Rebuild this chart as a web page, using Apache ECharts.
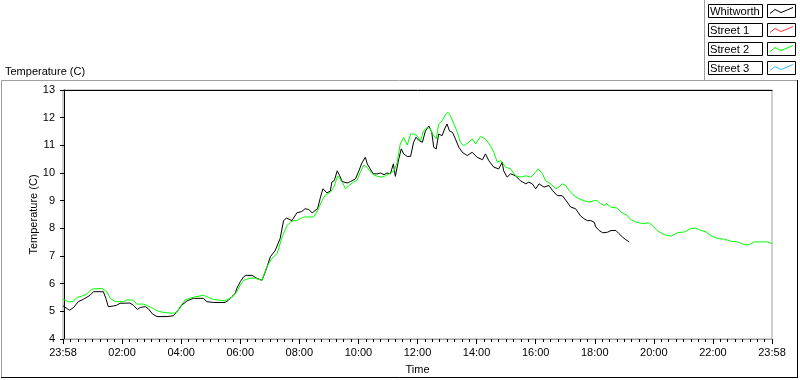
<!DOCTYPE html>
<html>
<head>
<meta charset="utf-8">
<script src="https://cdn.jsdelivr.net/npm/echarts@6/dist/echarts.min.js"></script>
<style>
html,body{margin:0;padding:0;background:#fff;}
#chart{width:800px;height:380px;}
</style>
</head>
<body>
<div id="chart"></div>
<script>
// Time values: minutes after midnight (-2 = 23:58 of the previous day)
var seriesNames = ['Whitworth', 'Street 1', 'Street 2', 'Street 3'];
var seriesColors = ['#000000', '#ff3030', '#00ff00', '#33bbff'];

var whitworthTime = [-2, 11, 19, 29, 39, 53, 60, 80, 85, 90, 94, 100, 107, 114, 134, 141, 149, 155, 165, 171, 180, 189, 209, 222, 232, 239, 250, 263, 283, 290, 304, 327, 334, 341, 348, 351, 358, 365, 370, 382, 392, 402, 409, 419, 429, 439, 446, 452, 456, 463, 473, 483, 490, 497, 504, 515, 521, 526, 534, 541, 544, 549, 555, 560, 565, 575, 582, 592, 599, 605, 612, 616, 622, 628, 636, 643, 650, 656, 663, 669, 673, 677, 680, 685, 690, 697, 704, 710, 715, 722, 728, 734, 741, 747, 751, 756, 761, 768, 773, 778, 783, 789, 795, 802, 809, 819, 829, 839, 850, 856, 863, 873, 883, 890, 893, 900, 907, 917, 927, 938, 944, 951, 958, 965, 975, 985, 992, 1002, 1012, 1022, 1029, 1039, 1049, 1056, 1063, 1070, 1077, 1080, 1087, 1094, 1104, 1111, 1121, 1127, 1134, 1141, 1148];
var whitworthTemp = [5.20, 5.04, 5.13, 5.35, 5.43, 5.58, 5.71, 5.71, 5.47, 5.17, 5.20, 5.19, 5.22, 5.29, 5.30, 5.22, 5.07, 5.14, 5.17, 5.10, 4.90, 4.81, 4.81, 4.84, 5.04, 5.22, 5.38, 5.47, 5.47, 5.35, 5.32, 5.32, 5.40, 5.53, 5.65, 5.83, 6.07, 6.25, 6.30, 6.30, 6.19, 6.12, 6.43, 6.97, 7.20, 7.63, 8.28, 8.37, 8.35, 8.28, 8.56, 8.61, 8.71, 8.68, 8.56, 8.71, 9.13, 9.43, 9.28, 9.35, 9.67, 9.73, 10.08, 9.90, 9.69, 9.64, 9.69, 9.79, 10.08, 10.36, 10.57, 10.33, 10.15, 9.97, 9.97, 10.00, 9.94, 10.00, 9.97, 10.33, 9.88, 9.85, 10.51, 10.87, 10.69, 10.60, 10.60, 11.11, 11.29, 11.16, 11.11, 11.52, 11.70, 11.47, 10.93, 10.87, 11.41, 11.35, 11.59, 11.77, 11.52, 11.47, 11.23, 10.93, 10.75, 10.63, 10.75, 10.57, 10.48, 10.69, 10.44, 10.21, 10.15, 10.39, 10.08, 9.85, 9.97, 9.90, 9.72, 9.61, 9.67, 9.61, 9.43, 9.61, 9.49, 9.55, 9.37, 9.18, 9.18, 8.95, 8.77, 8.71, 8.45, 8.35, 8.28, 8.28, 8.22, 8.05, 7.92, 7.84, 7.86, 7.92, 7.92, 7.81, 7.69, 7.59, 7.51];

var street1Time = [];
var street1Temp = [];

var street2Time = [-2, 9, 19, 26, 36, 46, 56, 77, 81, 87, 94, 104, 121, 128, 141, 148, 161, 175, 189, 202, 222, 229, 236, 246, 260, 283, 290, 304, 327, 338, 344, 351, 358, 365, 368, 378, 388, 402, 412, 422, 433, 443, 453, 460, 466, 473, 480, 487, 507, 515, 524, 531, 541, 548, 556, 565, 572, 578, 588, 595, 602, 609, 616, 626, 636, 646, 653, 663, 670, 677, 679, 683, 685, 690, 697, 704, 710, 717, 724, 730, 738, 744, 751, 756, 761, 768, 775, 780, 785, 792, 799, 805, 812, 822, 829, 836, 846, 856, 866, 873, 880, 887, 897, 907, 917, 927, 938, 948, 958, 963, 972, 978, 988, 999, 1005, 1012, 1019, 1026, 1036, 1046, 1056, 1066, 1077, 1083, 1090, 1097, 1102, 1110, 1124, 1131, 1144, 1151, 1161, 1175, 1188, 1195, 1205, 1219, 1233, 1246, 1260, 1273, 1283, 1294, 1304, 1314, 1328, 1341, 1355, 1368, 1382, 1392, 1402, 1416, 1429, 1438];
var street2Temp = [5.44, 5.35, 5.35, 5.50, 5.55, 5.62, 5.80, 5.83, 5.89, 5.71, 5.47, 5.35, 5.35, 5.41, 5.41, 5.26, 5.26, 5.17, 5.02, 4.96, 4.93, 4.96, 5.17, 5.41, 5.50, 5.58, 5.53, 5.43, 5.38, 5.47, 5.55, 5.71, 5.95, 6.12, 6.12, 6.20, 6.20, 6.12, 6.61, 6.91, 7.09, 7.69, 8.10, 8.22, 8.28, 8.28, 8.35, 8.41, 8.41, 8.64, 9.00, 9.21, 9.30, 9.49, 9.90, 9.67, 9.43, 9.54, 9.67, 9.73, 10.03, 10.29, 10.20, 9.97, 9.88, 9.85, 9.90, 10.00, 10.06, 10.39, 10.63, 11.05, 11.11, 11.29, 11.01, 11.41, 11.41, 11.35, 11.16, 11.52, 11.65, 11.59, 11.35, 11.23, 11.77, 11.88, 12.12, 12.19, 12.06, 11.77, 11.47, 11.11, 10.99, 11.11, 11.23, 11.05, 11.32, 11.23, 10.99, 10.75, 10.39, 10.45, 10.21, 10.15, 9.90, 9.85, 9.90, 9.85, 10.03, 10.15, 9.97, 9.72, 9.61, 9.43, 9.49, 9.61, 9.55, 9.37, 9.18, 9.07, 9.00, 8.95, 9.00, 9.00, 8.89, 8.83, 8.89, 8.77, 8.73, 8.59, 8.47, 8.32, 8.23, 8.17, 8.20, 8.10, 7.92, 7.77, 7.72, 7.84, 7.87, 7.99, 8.01, 7.92, 7.87, 7.74, 7.63, 7.61, 7.53, 7.51, 7.41, 7.41, 7.51, 7.51, 7.51, 7.45];

var street3Time = [];
var street3Temp = [];

// x axis: 23:58 .. 23:58, a labelled tick every 2 hours, minor ticks every 15 minutes
var xMin = -2, xMax = 1438, xStep = 120, xMinorSplit = 8;
var yMin = 4, yMax = 13, yStep = 1;

function zip(a, b) { return a.map(function (t, i) { return [t, b[i]]; }); }
function hhmm(m) {
  m = ((Math.round(m) % 1440) + 1440) % 1440;
  var h = Math.floor(m / 60), mm = m % 60;
  return (h < 10 ? '0' : '') + h + ':' + (mm < 10 ? '0' : '') + mm;
}
function fmtTime(v) {
  if (v <= xMin || v >= xMax) return hhmm(v);
  return hhmm(Math.round(v / 60) * 60);
}

var FONT = 'Liberation Sans';
var allData = [zip(whitworthTime, whitworthTemp), zip(street1Time, street1Temp), zip(street2Time, street2Temp), zip(street3Time, street3Temp)];

var series = seriesNames.map(function (n, i) {
  return {
    name: n, type: 'line', data: allData[i], showSymbol: false, symbol: 'none',
    xAxisIndex: 0, yAxisIndex: 0,
    lineStyle: { color: seriesColors[i], width: 1 }, itemStyle: { color: seriesColors[i] },
    animation: false, silent: true
  };
});

var graphics = [
  { type: 'rect', shape: { x: 1.5, y: 80.5, width: 796, height: 297 }, style: { fill: null, stroke: '#a0a0a0', lineWidth: 1 } },
  { type: 'line', shape: { x1: 1, y1: 377.5, x2: 798, y2: 377.5 }, style: { stroke: '#000', lineWidth: 1 } },
  { type: 'line', shape: { x1: 797.5, y1: 80, x2: 797.5, y2: 378 }, style: { stroke: '#000', lineWidth: 1 } },
  { type: 'line', shape: { x1: 704.5, y1: 0, x2: 704.5, y2: 80 }, style: { stroke: '#a0a0a0', lineWidth: 1 } },
  { type: 'text', x: 5, y: 66, style: { text: 'Temperature (C)', font: '11px "' + FONT + '"', fill: '#000' } }
];
seriesNames.forEach(function (n, i) {
  var y0 = 4.5 + i * 19;
  graphics.push({ type: 'rect', shape: { x: 708.5, y: y0, width: 54, height: 13 }, style: { fill: '#fff', stroke: '#000', lineWidth: 1 } });
  graphics.push({ type: 'text', x: 710, y: y0 + 1.5, style: { text: n, font: '11.2px "' + FONT + '"', fill: '#000' } });
  graphics.push({ type: 'rect', shape: { x: 767.5, y: y0, width: 28, height: 13 }, style: { fill: '#fff', stroke: '#000', lineWidth: 1 } });
  graphics.push({ type: 'polyline', shape: { points: [[770, y0 + 9], [775, y0 + 5], [781, y0 + 8], [786, y0 + 6], [793, y0 + 3]] }, style: { stroke: seriesColors[i], lineWidth: 1, fill: null } });
});

var chart = echarts.init(document.getElementById('chart'), null, { renderer: 'canvas' });
chart.setOption({
  animation: false,
  backgroundColor: '#fff',
  textStyle: { fontFamily: FONT },
  grid: { left: 63, right: 28, top: 90, bottom: 39, show: true, borderColor: '#a0a0a0', borderWidth: 1, backgroundColor: '#fff' },
  xAxis: [
    {
      type: 'value', min: xMin, max: xMax, interval: xStep, position: 'bottom',
      name: 'Time', nameLocation: 'middle', nameGap: 25, nameMoveOverlap: false,
      nameTextStyle: { fontSize: 11, color: '#000', fontFamily: FONT },
      axisLine: { show: true, lineStyle: { color: '#a0a0a0', width: 1 } },
      axisTick: { show: true, length: 5, lineStyle: { color: '#000', width: 1 } },
      minorTick: { show: true, splitNumber: xMinorSplit, length: 3, lineStyle: { color: '#000', width: 1 } },
      axisLabel: { formatter: fmtTime, fontSize: 11, color: '#000', margin: 8, fontFamily: FONT, showMinLabel: true, showMaxLabel: true, hideOverlap: false },
      splitLine: { show: false }, minorSplitLine: { show: false }
    },
    {
      type: 'value', min: xMin, max: xMax, position: 'top',
      axisLine: { show: true, lineStyle: { color: '#000', width: 1 } },
      axisTick: { show: false }, axisLabel: { show: false }, splitLine: { show: false }
    }
  ],
  yAxis: {
    type: 'value', min: yMin, max: yMax, interval: yStep,
    name: 'Temperature (C)', nameLocation: 'middle', nameGap: 24, nameMoveOverlap: false,
    nameTextStyle: { fontSize: 11, color: '#000', fontFamily: FONT },
    axisLine: { show: true, lineStyle: { color: '#000', width: 1 } },
    axisTick: { show: true, length: 4, lineStyle: { color: '#000' } },
    axisLabel: { fontSize: 11, color: '#000', margin: 8, fontFamily: FONT },
    splitLine: { show: false }
  },
  series: series,
  graphic: graphics
});
</script>
</body>
</html>
